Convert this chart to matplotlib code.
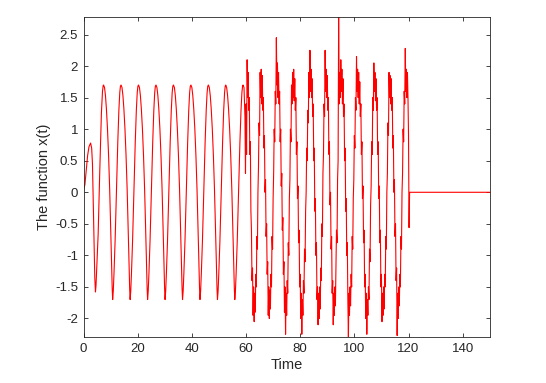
import numpy as np
import matplotlib.pyplot as plt
from matplotlib.ticker import FormatStrFormatter

plt.rcParams['font.family'] = ['Liberation Sans', 'DejaVu Sans']
plt.rcParams['axes.unicode_minus'] = False

# start-up transient (time, value)
t_start = [0.0, 0.5, 1.0, 1.5, 2.0, 2.6, 3.0, 3.3, 3.6, 3.9, 4.15, 4.4,
           4.6, 4.9, 5.4, 6.0, 6.6, 7.0, 7.25]
x_start = [0.03, 0.12, 0.35, 0.58, 0.72, 0.78, 0.70, 0.45, -0.2, -0.85, -1.35, -1.58,
           -1.48, -1.18, -0.66, 0.35, 1.26, 1.60, 1.69]

# one regular cycle, offsets from its peak
cyc_dt = [0.00, 0.35, 0.70, 1.05, 1.45, 1.85, 2.25, 2.60, 2.85, 3.05, 3.18, 3.35,
          3.58, 3.85, 4.25, 4.75, 5.25, 5.65, 5.98, 6.22]
cyc_x = [1.70, 1.66, 1.53, 1.32, 1.00, 0.58, 0.05, -0.50, -0.95, -1.32, -1.52, -1.70,
         -1.57, -1.28, -0.78, 0.00, 0.80, 1.30, 1.58, 1.68]
peak_times = [7.40, 13.85, 20.30, 26.75, 33.20, 39.65, 46.10, 52.50, 58.90]

# noisy part, sampled every 0.2 from t = 59.6
noisy_t0 = 59.6
noisy_dt = 0.2
x_noisy = [
    1.2, 0.3, 1.4, 0.6, 2.1, 1.5, 1.9, 1.3, 1.5, 0.6,
    0.8, -0.3, -0.6, -1.4, -1.2, -1.95, -1.5, -2.05, -1.6, -1.9,
    -1.3, -1.5, -0.7, -0.9, 0.0, 0.4, 1.1, 0.9, 1.9, 1.5,
    1.95, 1.4, 1.85, 1.3, 1.5, 0.7, 0.9, 0.0, 0.2, -0.7,
    -0.5, -1.3, -1.1, -1.95, -1.5, -2.0, -1.55, -1.85, -1.3, -1.5,
    -0.7, -0.9, -0.1, 0.3, 1.0, 0.8, 1.6, 1.4, 2.45, 1.7,
    2.05, 1.5, 1.9, 1.4, 1.6, 0.8, 1.0, 0.1, 0.3, -0.6,
    -0.4, -1.3, -1.1, -1.9, -1.5, -2.25, -1.6, -1.95, -1.4, -1.6,
    -0.8, -1.0, -0.1, 0.2, 1.0, 0.8, 1.7, 1.4, 1.9, 1.5,
    1.95, 1.45, 1.8, 1.3, 1.5, 0.6, 0.8, -0.1, 0.1, -0.8,
    -0.6, -1.5, -1.3, -2.0, -1.6, -2.25, -1.7, -1.95, -1.4, -1.6,
    -0.9, -1.1, -0.3, 0.0, 0.7, 0.5, 1.3, 1.1, 1.9, 1.5,
    2.25, 1.6, 1.95, 1.5, 1.8, 1.2, 1.4, 0.5, 0.7, -0.3,
    -0.1, -1.0, -0.8, -1.7, -1.5, -2.1, -1.6, -2.0, -1.5, -1.85,
    -1.2, -1.4, -0.5, -0.7, 0.3, 0.6, 1.4, 1.2, 2.25, 1.6,
    1.95, 1.5, 1.85, 1.3, 1.5, 0.6, 0.8, -0.2, 0.0, -0.9,
    -0.7, -1.6, -1.4, -2.1, -1.6, -1.95, -1.5, -1.8, -1.2, -0.6,
    -0.8, 0.2, 0.5, 2.78, 1.4, 1.9, 1.5, 2.1, 1.6, 1.95,
    1.4, 1.8, 1.2, 1.4, 0.5, 0.7, -0.3, -0.1, -1.0, -0.8,
    -1.7, -2.3, -1.6, -1.95, -1.5, -1.8, -1.3, -1.5, -0.7, -0.9,
    -0.1, 0.2, 0.9, 0.7, 1.5, 1.3, 2.15, 1.6, 1.95, 1.5,
    1.9, 1.4, 1.75, 1.2, 1.4, 0.6, 0.8, -0.1, 0.1, -0.8,
    -0.6, -1.5, -1.3, -2.0, -1.6, -2.25, -1.7, -1.95, -1.5, -1.7,
    -0.9, -1.1, -0.2, 0.1, 0.8, 0.6, 1.5, 1.3, 2.05, 1.6,
    1.9, 1.45, 1.8, 1.3, 1.5, 0.6, 0.8, -0.1, 0.1, -0.8,
    -0.6, -1.5, -1.3, -2.05, -1.6, -1.95, -1.5, -1.85, -1.3, -1.5,
    -0.7, -0.9, 0.0, 0.3, 1.1, 0.9, 1.9, 1.5, 1.85, 1.4,
    1.8, 1.3, 1.5, 0.7, 0.9, 0.0, 0.2, -0.7, -0.5, -1.4,
    -1.2, -2.27, -1.6, -2.0, -1.5, -1.8, -1.3, -1.5, -0.7, -0.9,
    0.0, 0.3, 1.0, 0.8, 1.6, 1.4, 2.28, 1.6, 1.95, 1.5,
    1.9, 1.5, 0.9, -0.56,
]

# after the switch-off
t_tail = [120.4, 150.0]
x_tail = [0.0, 0.0]

# assemble the curve
t_all = list(t_start)
x_all = list(x_start)
for tp in peak_times:
    for dt, xv in zip(cyc_dt, cyc_x):
        if tp + dt < noisy_t0 - 0.1:
            t_all.append(tp + dt)
            x_all.append(xv)
t_noisy = noisy_t0 + noisy_dt * np.arange(len(x_noisy))
t_all = np.concatenate([t_all, t_noisy, t_tail])
x_all = np.concatenate([x_all, x_noisy, x_tail])

fig = plt.figure(figsize=(5.46, 3.83), dpi=100)
ax = fig.add_axes([0.153, 0.119, 0.744, 0.837])
ax.plot(t_all, x_all, color='red', linewidth=0.8)

ax.set_xlim(0, 150)
ax.set_ylim(-2.3, 2.78)
ax.set_xticks(np.arange(0, 141, 20))
ax.set_yticks(np.arange(-2, 2.51, 0.5))
ax.yaxis.set_major_formatter(FormatStrFormatter('%g'))

gray = '#262626'
for s in ax.spines.values():
    s.set_color(gray)
    s.set_linewidth(0.6)
ax.tick_params(direction='in', length=3, width=0.6, color=gray, labelcolor=gray,
               labelsize=9.5, top=True, right=True, pad=4)
ax.set_xlabel('Time', fontsize=10.5, color=gray, labelpad=2)
ax.set_ylabel('The function x(t)', fontsize=10.5, color=gray, labelpad=3)

fig.savefig('out.png', dpi=100)
